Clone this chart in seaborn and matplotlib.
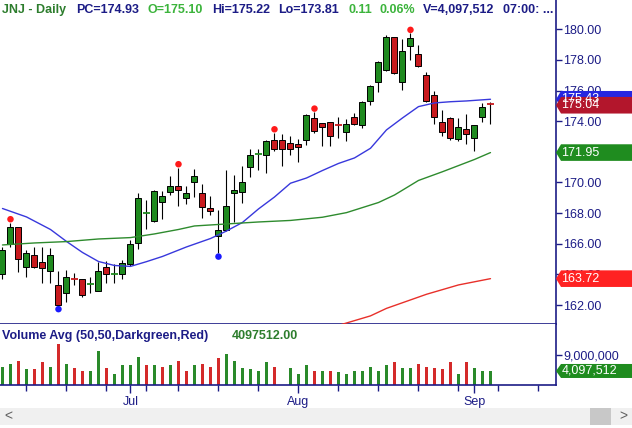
import matplotlib
matplotlib.use("Agg")
import matplotlib.pyplot as plt
from matplotlib.patches import Polygon, Rectangle
import seaborn as sns

# Daily JNJ candles, trading-day index 0..61 (Jun 9 .. Sep 3)
opens = [164.03, 165.99, 167.08, 164.50, 165.25, 164.81, 164.20, 163.29, 162.77, 163.68,
         163.68, 163.36, 162.94, 164.46, 164.03, 164.03, 164.68, 166.03, 167.99, 167.47,
         168.71, 169.36, 169.75, 168.97, 170.01, 169.31, 168.32, 166.49, 166.88, 169.30,
         169.36, 170.99, 171.84, 171.78, 172.77, 172.77, 172.56, 172.49, 172.77, 174.19,
         173.86, 173.93, 173.73, 173.28, 174.26, 173.77, 175.30, 176.54, 177.32, 179.48,
         176.58, 178.89, 178.41, 177.02, 175.69, 173.95, 174.23, 172.82, 173.47, 172.89,
         174.30, 175.10]
highs = [165.81, 167.38, 167.12, 165.59, 165.81, 165.81, 165.74, 164.24, 164.29, 164.11,
         163.70, 163.81, 164.81, 164.86, 164.68, 164.94, 166.25, 169.33, 168.86, 169.51,
         169.46, 170.42, 170.97, 169.75, 170.88, 169.90, 169.12, 168.21, 170.82, 170.47,
         171.08, 172.17, 172.19, 172.79, 173.25, 173.15, 173.04, 172.84, 174.50, 174.60,
         173.88, 173.95, 174.28, 174.14, 174.52, 175.34, 176.36, 177.95, 179.61, 179.50,
         179.35, 179.74, 178.99, 177.21, 175.95, 174.73, 174.25, 174.23, 174.47, 173.75,
         175.17, 175.22]
lows = [163.68, 165.81, 164.18, 163.85, 164.42, 163.46, 163.46, 161.95, 162.20, 163.29,
        162.51, 162.77, 162.90, 163.42, 163.42, 163.72, 164.55, 165.64, 166.98, 167.45,
        167.60, 169.20, 168.49, 168.62, 169.03, 167.70, 167.90, 165.38, 166.86, 167.44,
        168.64, 170.38, 170.82, 170.64, 172.08, 171.10, 171.81, 171.32, 172.43, 173.25,
        172.40, 172.40, 172.92, 172.73, 173.75, 173.58, 175.08, 175.93, 177.30, 177.10,
        176.04, 178.02, 177.52, 175.25, 173.84, 173.04, 172.77, 172.73, 172.49, 172.06,
        173.93, 173.81]
closes = [165.59, 167.08, 164.99, 165.38, 164.46, 164.42, 165.25, 161.98, 163.81, 163.67,
          162.64, 163.37, 164.20, 164.03, 164.04, 164.73, 165.99, 168.99, 168.00, 169.43,
          169.10, 169.75, 169.49, 169.31, 170.40, 168.38, 168.12, 166.88, 168.45, 169.51,
          170.03, 171.78, 171.85, 172.71, 172.17, 172.17, 172.21, 172.30, 174.39, 173.34,
          173.64, 173.05, 173.72, 173.80, 173.83, 175.25, 176.28, 177.87, 179.52, 177.15,
          178.56, 179.41, 177.59, 175.32, 174.26, 173.28, 172.92, 173.64, 173.15, 173.73,
          174.93, 175.04]
volume_m = [5.25, 6.06, 6.97, 4.55, 4.55, 6.67, 5.45, 12.32, 6.06, 5.15,
            4.24, 4.24, 10.30, 5.15, 3.33, 5.76, 5.76, 8.48, 5.76, 5.76,
            5.45, 5.76, 7.27, 4.24, 5.76, 6.36, 5.45, 7.88, 9.39, 7.27,
            4.85, 4.55, 3.94, 6.67, 5.45, 0.0, 4.85, 3.33, 5.76, 4.24,
            3.94, 4.24, 3.64, 3.33, 3.94, 3.94, 5.45, 4.24, 5.76, 6.67,
            5.15, 5.15, 6.06, 5.45, 5.15, 4.55, 6.67, 3.03, 6.67, 4.85,
            4.24, 4.097512]

# moving averages, sampled along the drawn lines
sma20_idx = [0, 3, 6, 8, 10, 12, 14, 16, 18, 20, 23, 26, 28, 30, 32, 34, 36, 38, 40,
             42, 44, 46, 48, 50, 52, 54, 56, 58, 61]
sma20 = [168.30, 167.75, 166.93, 166.15, 165.43, 164.84, 164.58, 164.52, 164.83, 165.17,
         165.79, 166.34, 166.83, 167.39, 168.27, 169.05, 169.95, 170.29, 170.78, 171.24,
         171.60, 172.23, 173.43, 174.21, 174.95, 175.19, 175.27, 175.32, 175.43]
sma50_idx = [0, 4, 8, 12, 16, 19, 22, 24, 28, 32, 36, 40, 43, 47, 49, 52, 55, 59, 61]
sma50 = [165.92, 166.05, 166.14, 166.31, 166.40, 166.64, 166.93, 167.16, 167.29, 167.42,
         167.52, 167.73, 168.03, 168.69, 169.18, 170.13, 170.70, 171.50, 171.95]
sma200_idx = [40, 42, 46, 48, 53, 57, 61]
sma200 = [160.57, 160.67, 161.29, 161.78, 162.70, 163.31, 163.72]

swing_high_idx = [1, 22, 34, 39, 51]
swing_low_idx = [7, 27]

price_ticks = [162, 164, 166, 168, 170, 172, 174, 176, 178, 180]
month_labels = ["Jul", "Aug", "Sep"]
month_idx = [16, 37, 59]
week_idx = [3, 8, 13, 18, 22, 27, 32, 42, 47, 52, 57, 62, 67]

# colours
NAVY = "#1c1c86"
UP = "#1f8a1f"
DOWN = "#c81a1e"
VOL_UP = "#2a8a2a"
VOL_DOWN = "#d42a2a"

sns.set_theme(style="white")
plt.rcParams["font.family"] = ["Liberation Sans", "DejaVu Sans"]

W, H = 632, 428
fig = plt.figure(figsize=(W / 100, H / 100), dpi=100)


def box(left, top, width, height):
    return [left / W, 1 - (top + height) / H, width / W, height / H]


ax_p = fig.add_axes(box(0, 0, 556, 324))
ax_v = fig.add_axes(box(0, 324, 556, 60.5))
ax_tp = fig.add_axes(box(556, 0, 76, 324))
ax_tv = fig.add_axes(box(556, 324, 76, 60.5))
ax_s = fig.add_axes(box(0, 408, 632, 17))

x = list(range(len(closes)))
x_lim = (-0.31, 69.19)
p_lim = (160.76, 181.91)
v_lim = (0, 18.33)

# ---- price panel ----
ax_p.vlines(x, lows, highs, color="black", lw=0.8, zorder=2)
for i in x:
    o, c = opens[i], closes[i]
    col = UP if c >= o else DOWN
    if abs(c - o) < 0.08:
        ax_p.hlines(o, i - 0.4, i + 0.4, color=col, lw=1.3, zorder=3)
    else:
        ax_p.bar(i, abs(c - o), bottom=min(o, c), width=0.75, color=col,
                 edgecolor="black", linewidth=0.7, zorder=3)

sns.lineplot(x=sma20_idx, y=sma20, ax=ax_p, color="#3838dc", lw=1.0, zorder=4)
sns.lineplot(x=sma50_idx, y=sma50, ax=ax_p, color="#2e8b2e", lw=1.0, zorder=4)
sns.lineplot(x=sma200_idx, y=sma200, ax=ax_p, color="#e8302a", lw=1.0, zorder=4)

sns.scatterplot(x=swing_high_idx, y=[highs[i] + 0.22 for i in swing_high_idx], ax=ax_p,
                color="#ff1a1a", s=22, edgecolor="none", zorder=5)
sns.scatterplot(x=swing_low_idx, y=[lows[i] - 0.22 for i in swing_low_idx], ax=ax_p,
                color="#1a1aff", s=22, edgecolor="none", zorder=5)

ax_p.set_xlim(*x_lim)
ax_p.set_ylim(*p_lim)
ax_p.set_xticks([])
ax_p.yaxis.tick_right()
ax_p.set_yticks(price_ticks)
ax_p.set_yticklabels([f"{t:.2f}" for t in price_ticks])
ax_p.tick_params(axis="y", right=True, length=4, width=1, color=NAVY,
                 labelcolor=NAVY, labelsize=9, pad=1)
for side in ["top", "left"]:
    ax_p.spines[side].set_visible(False)
for side in ["right", "bottom"]:
    ax_p.spines[side].set_color(NAVY)
    ax_p.spines[side].set_linewidth(1.2)

# ---- volume panel ----
vol_colors = [VOL_UP] + [VOL_UP if closes[i] >= closes[i - 1] else VOL_DOWN
                         for i in x[1:]]
ax_v.bar(x, volume_m, width=0.28, color=vol_colors, linewidth=0)
ax_v.set_xlim(*x_lim)
ax_v.set_ylim(*v_lim)
ax_v.yaxis.tick_right()
ax_v.set_yticks([9])
ax_v.set_yticklabels(["9,000,000"])
ax_v.set_xticks(month_idx)
ax_v.set_xticklabels(month_labels)
ax_v.set_xticks(week_idx, minor=True)
ax_v.tick_params(axis="y", right=True, length=4, width=1, color=NAVY,
                 labelcolor=NAVY, labelsize=9, pad=1)
ax_v.tick_params(axis="x", which="major", bottom=True, length=6, width=1, color=NAVY,
                 labelcolor=NAVY, labelsize=9, pad=2)
ax_v.tick_params(axis="x", which="minor", bottom=True, length=4, width=1, color=NAVY)
for side in ["top", "left"]:
    ax_v.spines[side].set_visible(False)
for side in ["right", "bottom"]:
    ax_v.spines[side].set_color(NAVY)
    ax_v.spines[side].set_linewidth(1.2)

# ---- last-value tags on the right ----
def tag(ax, value, half, color, text):
    ax.add_patch(Polygon([(0, value), (5, value + half), (76, value + half),
                          (76, value - half), (5, value - half)],
                         closed=True, facecolor=color, edgecolor="none"))
    ax.text(5.5, value, text, color="white", fontsize=9, va="center", ha="left")


for ax, lim in [(ax_tp, p_lim), (ax_tv, v_lim)]:
    ax.set_xlim(0, 76)
    ax.set_ylim(*lim)
    ax.axis("off")
    ax.patch.set_visible(False)
    ax.set_zorder(5)

p_half = 8.3 * (p_lim[1] - p_lim[0]) / 324
tag(ax_tp, sma20[-1], p_half, "#2626e0", f"{sma20[-1]:.2f}")
tag(ax_tp, closes[-1], p_half, "#b3162c", f"{closes[-1]:.2f}")
tag(ax_tp, sma50[-1], p_half, "#1f8c1f", f"{sma50[-1]:.2f}")
tag(ax_tp, sma200[-1], p_half, "#ff2222", f"{sma200[-1]:.2f}")
v_half = 7.0 * (v_lim[1] - v_lim[0]) / 60.5
tag(ax_tv, volume_m[-1], v_half, "#1f8c1f", f"{volume_m[-1] * 1e6:,.0f}")

# ---- header texts ----
chg = closes[-1] - closes[-2]
header = [
    ("JNJ - Daily", 2, "#2d7d2d"),
    (f"PC={closes[-2]:.2f}", 76, NAVY),
    (f"O={opens[-1]:.2f}", 148, "#3cb43c"),
    (f"Hi={highs[-1]:.2f}", 212, NAVY),
    (f"Lo={lows[-1]:.2f}", 278, NAVY),
    (f"{chg:.2f}", 348, "#3cb43c"),
    (f"{chg / closes[-2] * 100:.2f}%", 380, "#3cb43c"),
    (f"V={volume_m[-1] * 1e6:,.0f}", 423, NAVY),
    ("07:00: ...", 503, NAVY),
]
for text, px, col in header:
    fig.text(px / W, 1 - 10 / H, text, color=col, fontsize=9, fontweight="bold",
             va="center", ha="left")

fig.text(2 / W, 1 - 336 / H, "Volume Avg (50,50,Darkgreen,Red)", color=NAVY,
         fontsize=9, fontweight="bold", va="center", ha="left")
fig.text(232 / W, 1 - 336 / H, f"{volume_m[-1] * 1e6:.2f}", color="#2d7d2d",
         fontsize=9, fontweight="bold", va="center", ha="left")

# ---- scrollbar strip ----
ax_s.set_xlim(0, 632)
ax_s.set_ylim(0, 17)
ax_s.axis("off")
ax_s.add_patch(Rectangle((0, 0), 632, 17, facecolor="#f0f0f0", edgecolor="none"))
ax_s.add_patch(Rectangle((590, 0), 21, 17, facecolor="#c8c8c8", edgecolor="none"))
ax_s.text(8, 8.5, "<", color="#606060", fontsize=10, ha="center", va="center")
ax_s.text(623, 8.5, ">", color="#606060", fontsize=10, ha="center", va="center")

fig.savefig("out.png", dpi=100)
